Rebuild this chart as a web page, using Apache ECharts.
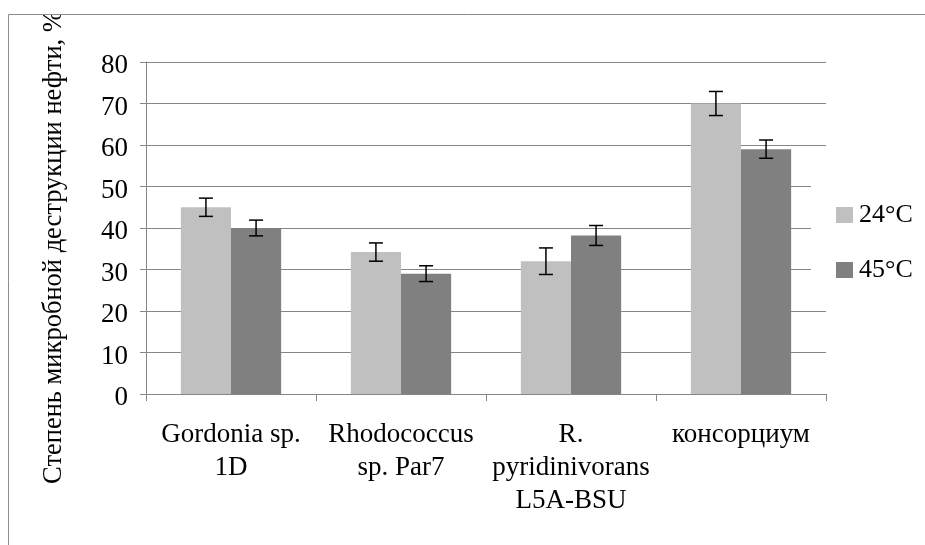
<!DOCTYPE html>
<html>
<head>
<meta charset="utf-8">
<script src="https://cdn.jsdelivr.net/npm/echarts@6/dist/echarts.min.js"></script>
<style>
  html, body { margin: 0; padding: 0; background: #fff; }
  #chart { width: 925px; height: 545px; }
</style>
</head>
<body>
<div id="chart"></div>
<script>
// данные с рисунка
const categories = ['Gordonia sp.\n1D', 'Rhodococcus\nsp. Par7', 'R.\npyridinivorans\nL5A-BSU', 'консорциум']
const seriesNames = ['24°C', '45°C']
const values24 = [45, 34.2, 32, 70]
const values45 = [40, 29, 38.2, 59]
const errors24 = [2.2, 2.2, 3.2, 2.9]
const errors45 = [1.9, 1.9, 2.4, 2.2]
const yTicks = { min: 0, max: 80, interval: 10 }

const FONT = "'Liberation Serif', 'Times New Roman', serif"
const GAP = 0.41 // barCategoryGap

// отрисовка планок погрешностей (side: -1 левый столбец, 1 правый)
const errorRender = (side) => (params, api) => {
  const i = api.value(0)
  const v = api.value(1)
  const e = api.value(2)
  const band = api.size([1, 0])[0]
  const bw = band * (1 - GAP) / 2
  const cx = api.coord([i, 0])[0] + side * bw / 2
  const yHi = api.coord([i, v + e])[1]
  const yLo = api.coord([i, v - e])[1]
  const cap = 7
  const style = { stroke: '#000', lineWidth: 1.5 }
  return {
    type: 'group',
    children: [
      { type: 'line', shape: { x1: cx, y1: yHi, x2: cx, y2: yLo }, style },
      { type: 'line', shape: { x1: cx - cap, y1: yHi, x2: cx + cap, y2: yHi }, style },
      { type: 'line', shape: { x1: cx - cap, y1: yLo, x2: cx + cap, y2: yLo }, style }
    ]
  }
}

const chart = echarts.init(document.getElementById('chart'))
const option = {
  animation: false,
  backgroundColor: '#fff',
  textStyle: { fontFamily: FONT, color: '#000' },
  grid: { left: 146, right: 99, top: 62, bottom: 151, outerBoundsMode: 'none' },
  legend: {
    orient: 'vertical',
    left: 811,
    top: 175,
    padding: [25, 10, 20, 25],
    backgroundColor: '#fff',
    itemWidth: 17,
    itemHeight: 16,
    itemGap: 25,
    icon: 'rect',
    textStyle: { fontFamily: FONT, fontSize: 26, color: '#000', lineHeight: 30, padding: [0, 0, 0, 1] },
    data: seriesNames
  },
  xAxis: {
    type: 'category',
    data: categories,
    axisLine: { lineStyle: { color: '#868686', width: 1 } },
    axisTick: { show: true, length: 7, lineStyle: { color: '#868686' } },
    axisLabel: { interval: 0, margin: 24, fontFamily: FONT, fontSize: 27, lineHeight: 33, color: '#000' }
  },
  yAxis: {
    type: 'value',
    min: yTicks.min,
    max: yTicks.max,
    interval: yTicks.interval,
    name: 'Степень микробной деструкции нефти, %',
    nameLocation: 'middle',
    nameGap: 78,
    nameTextStyle: { fontFamily: FONT, fontSize: 26.5, color: '#000', padding: [0, 38, 0, 0] },
    axisLine: { show: true, lineStyle: { color: '#868686', width: 1 } },
    axisTick: { show: true, length: 6, lineStyle: { color: '#868686' } },
    axisLabel: { margin: 18, fontFamily: FONT, fontSize: 27, color: '#000', verticalAlign: 'top', lineHeight: 8 },
    splitLine: { lineStyle: { color: '#868686', width: 1 } }
  },
  graphic: [
    // рамка области диаграммы
    { type: 'rect', z: 100, shape: { x: 0, y: 0, width: 925, height: 14 }, style: { fill: '#fff' } },
    { type: 'rect', z: 101, shape: { x: 8.5, y: 14.5, width: 1000, height: 1000 }, style: { fill: 'none', stroke: '#8c8c8c', lineWidth: 1 } }
  ],
  series: [
    {
      name: seriesNames[0],
      type: 'bar',
      data: values24,
      barGap: '0%',
      barCategoryGap: (GAP * 100) + '%',
      itemStyle: { color: '#c0c0c0' }
    },
    {
      name: seriesNames[1],
      type: 'bar',
      data: values45,
      barGap: '0%',
      barCategoryGap: (GAP * 100) + '%',
      itemStyle: { color: '#808080' }
    },
    {
      type: 'custom',
      renderItem: errorRender(-1),
      data: values24.map((v, i) => [i, v, errors24[i]]),
      encode: { x: 0, y: 1 },
      z: 5
    },
    {
      type: 'custom',
      renderItem: errorRender(1),
      data: values45.map((v, i) => [i, v, errors45[i]]),
      encode: { x: 0, y: 1 },
      z: 5
    }
  ]
}
chart.setOption(option)
window.addEventListener('resize', () => chart.resize())
</script>
</body>
</html>
